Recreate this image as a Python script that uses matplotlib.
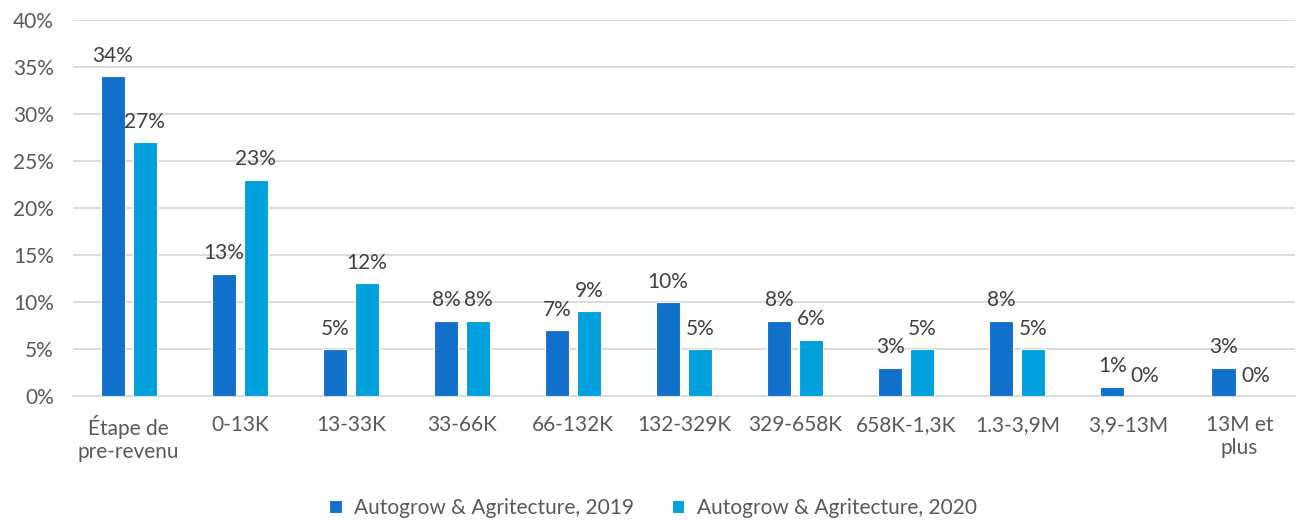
import matplotlib
matplotlib.use("Agg")
import matplotlib.pyplot as plt
import numpy as np

categories = ["Étape de\npre-revenu", "0-13K", "13-33K", "33-66K", "66-132K", "132-329K",
              "329-658K", "658K-1,3K", "1.3-3,9M", "3,9-13M", "13M et\nplus"]
series_names = ["Autogrow & Agritecture, 2019", "Autogrow & Agritecture, 2020"]
values_2019 = [34, 13, 5, 8, 7, 10, 8, 3, 8, 1, 3]
values_2020 = [27, 23, 12, 8, 9, 5, 6, 5, 5, 0, 0]
yticks = [0, 5, 10, 15, 20, 25, 30, 35, 40]

plt.rcParams['font.family'] = ['Lato', 'DejaVu Sans']
text_color = "#595959"
colors = ["#1170C9", "#00A0DC"]

fig = plt.figure(figsize=(13.06, 5.22), dpi=100)
ax = fig.add_axes([0.056, 0.2414, 0.9356, 0.7203])

x = np.arange(len(categories))
w = 0.217
off = 0.144
for vals, c, name, o in [(values_2019, colors[0], series_names[0], -off),
                         (values_2020, colors[1], series_names[1], off)]:
    bars = ax.bar(x + o, vals, width=w, color=c, edgecolor="white", linewidth=0.8,
                  label=name, zorder=3)
    for xi, v in zip(x + o, vals):
        ax.annotate(f"{v}%", (xi, v), xytext=(0, 7.5), textcoords="offset points",
                    ha="center", va="bottom", fontsize=15, color="#404040")

ax.set_xlim(-0.5, len(categories) - 0.5)
ax.set_ylim(0, 40)
ax.set_yticks(yticks)
ax.set_yticklabels([f"{t}%" for t in yticks])
ax.set_xticks(x)
ax.set_xticklabels(categories, linespacing=1.15)
ax.grid(axis="y", color="#D9D9D9", linewidth=1.3, zorder=0)
ax.set_axisbelow(True)
for s in ["top", "right", "left"]:
    ax.spines[s].set_visible(False)
ax.spines["bottom"].set_color("#D9D9D9")
ax.spines["bottom"].set_linewidth(1.3)
ax.tick_params(axis="both", length=0, labelsize=15, colors=text_color)
ax.tick_params(axis="x", pad=14)
ax.tick_params(axis="y", pad=14)

leg = fig.legend(loc="center", bbox_to_anchor=(0.5, 0.027), ncol=2, frameon=False,
                 fontsize=15, handlelength=0.6, handleheight=0.6, columnspacing=1.8,
                 handletextpad=0.6)
for t in leg.get_texts():
    t.set_color(text_color)

fig.savefig("out.png", dpi=100)
